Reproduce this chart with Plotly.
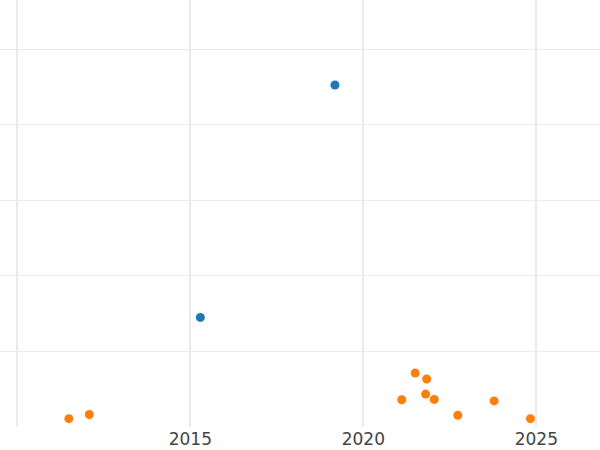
import plotly.graph_objects as go

blue_x = [2019.18, 2015.29]
blue_y = [90.5, 29.0]
orange_x = [2011.49, 2012.08, 2021.50, 2021.83, 2021.11, 2021.80, 2022.05, 2022.73, 2023.78, 2024.83]
orange_y = [2.2, 3.3, 14.3, 12.7, 7.2, 8.7, 7.3, 3.1, 6.9, 2.2]

fig = go.Figure()
fig.add_trace(go.Scatter(x=blue_x, y=blue_y, mode="markers",
                         marker=dict(color="#1f77b4", size=9), showlegend=False))
fig.add_trace(go.Scatter(x=orange_x, y=orange_y, mode="markers",
                         marker=dict(color="#ff7f0e", size=9), showlegend=False))

fig.update_layout(
    template="none",
    width=600, height=450,
    margin=dict(l=0, r=0, t=0, b=23, pad=0),
    paper_bgcolor="white", plot_bgcolor="white",
    font=dict(family="DejaVu Sans", size=17, color="#444444"),
    xaxis=dict(range=[2009.5, 2026.84], dtick=5, tick0=2010, showgrid=True,
               gridcolor="#ebebeb", gridwidth=2, zeroline=False, showline=False,
               ticks="", automargin=False),
    yaxis=dict(range=[0, 113], dtick=20, tick0=0, showgrid=True,
               gridcolor="#ebebeb", gridwidth=1, zeroline=False, showline=False,
               ticks="", showticklabels=False, automargin=False),
)
fig.write_html("out.html", config={"displayModeBar": False},
               post_script="document.body.style.margin='0';document.body.style.padding='0';")
